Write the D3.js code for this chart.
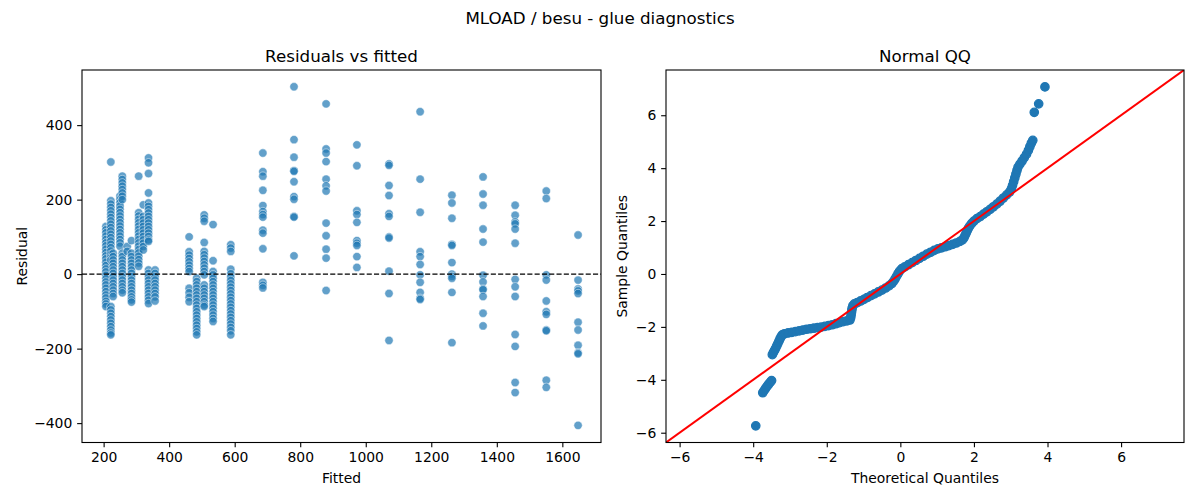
<!DOCTYPE html>
<html>
<head>
<meta charset="utf-8">
<script src="https://cdn.jsdelivr.net/npm/d3@7"></script>
<style>
  body { margin: 0; background: #fff; }
  text { font-family: "DejaVu Sans", sans-serif; fill: #000; }
</style>
</head>
<body>
<div class="main-area"></div>
<script>
// fitted value columns and the residuals
const fittedLevels = [207, 222, 229, 250, 257, 272, 285, 307, 321, 337, 357, 461, 484, 507, 534, 588,
  686, 781, 879, 973, 1071, 1166, 1263, 1358, 1456, 1551, 1648];

const residualsByLevel = [
  [128, 119, 111, 102, 93, 84, 76, 67, 58, 49, 41, 32, 23, 14, 6, -3, -12, -21, -29, -38, -47, -56, -64, -73, -80, -87],
  [301, 197, 188, 179, 170, 161, 152, 143, 134, 125, 116, 107, 98, 89, 80, 71, 62, 53, 45, 38, -87, -96, -105, -114, -123, -132, -141, -150, -158, -163],
  [56, 47, 38, 29, 20, 11, 2, -7, -16, -25, -34, -43, -52, -60],
  [210, 201, 192, 183, 174, 165, 156, 147, 138, 129, 120, 111, 102, 93, 84, 75],
  [263, 254, 245, 236, 227, 218, 209, 200, 56, 47, 38, 29, 20, 11, 2, -7, -16, -25, -34, -43, -50],
  [74, 61],
  [90, 56, 47, 38, 29, 20, 11, 2, -7, -16, -25, -34, -43, -52, -61, -69, -75],
  [263, 165, 156, 147, 138, 129, 120, 111, 102, 93, 84, 75, 66, 57, 48, 39, 30, 21],
  [186, 155, 146, 137, 128, 119, 110, 101, 92, 83, 74, 65],
  [312, 299, 270, 218, 191, 182, 173, 164, 155, 146, 137, 128, 119, 110, 101, 92, 88, 11, 2, -7, -16, -25, -34, -43, -52, -61, -70, -79],
  [11, 2, -7, -16, -25, -34, -43, -52, -61, -72],
  [100, 60, 51, 42, 33, 24, 15, 7, -38, -50, -62, -74],
  [-11, -20, -29, -38, -47, -56, -65, -74, -83, -92, -101, -110, -119, -128, -137, -146, -155, -163],
  [159, 150, 142, 85, 61, 52, 43, 34, 25, 16, 7, -2, -29, -38, -47, -56, -65, -74, -83, -87],
  [133, 36, 7, -2, -11, -20, -29, -38, -47, -56, -65, -74, -83, -92, -101, -110, -119, -127],
  [79, 70, 61, 13, 1, -8, -17, -26, -35, -44, -53, -62, -71, -80, -89, -98, -107, -116, -125, -134, -143, -152, -163],
  [325, 275, 263, 225, 184, 168, 160, 153, 118, 110, 68, -22, -30, -37],
  [503, 361, 314, 278, 276, 248, 208, 201, 155, 153, 49],
  [457, 336, 325, 302, 255, 237, 223, 137, 103, 67, 43, -44],
  [347, 291, 170, 160, 139, 90, 83, 77, 47, 18],
  [296, 292, 238, 211, 162, 155, 100, 97, 8, -52, -178],
  [436, 255, 166, 60, 47, 26, -2, -22, -49, -65, -68],
  [212, 191, 150, 80, 77, 31, 0, -6, -11, -49, -184],
  [261, 215, 185, 121, 86, -3, -21, -40, -42, -60, -105, -139],
  [185, 158, 140, 135, 121, 83, -14, -34, -60, -162, -194, -291, -318],
  [223, 203, -2, -16, -72, -101, -108, -150, -152, -285, -304],
  [105, -16, -40, -45, -52, -129, -150, -191, -211, -214, -406]
];

// normal QQ: [theoretical quantile, sample quantile]
const qqPoints = [
  [-3.93, -5.74], [-3.74, -4.49], [-3.70, -4.40], [-3.66, -4.32], [-3.62, -4.24], [-3.58, -4.17], [-3.54, -4.10], [-3.50, -4.03],
  [-3.48, -3.05], [-3.45, -2.97], [-3.42, -2.89], [-3.39, -2.81], [-3.36, -2.72], [-3.33, -2.63], [-3.30, -2.54], [-3.27, -2.45], [-3.24, -2.37], [-3.21, -2.30],
  [-3.15, -2.26], [-3.05, -2.23], [-2.95, -2.21], [-2.85, -2.18], [-2.75, -2.15], [-2.65, -2.12], [-2.55, -2.09], [-2.45, -2.07], [-2.35, -2.05], [-2.25, -2.03],
  [-2.15, -2.01], [-2.05, -1.98], [-1.95, -1.95], [-1.85, -1.92], [-1.75, -1.88], [-1.65, -1.84], [-1.55, -1.80], [-1.45, -1.77], [-1.37, -1.74],
  [-1.35, -1.65], [-1.34, -1.56], [-1.33, -1.47], [-1.32, -1.38], [-1.31, -1.29], [-1.29, -1.20], [-1.25, -1.13],
  [-1.17, -1.08], [-1.08, -1.02], [-0.99, -0.96], [-0.90, -0.89], [-0.80, -0.82], [-0.70, -0.75], [-0.60, -0.68], [-0.50, -0.61], [-0.40, -0.53], [-0.31, -0.45], [-0.23, -0.36],
  [-0.18, -0.27], [-0.14, -0.18], [-0.10, -0.08], [-0.06, 0.02], [-0.02, 0.11], [0.04, 0.20],
  [0.12, 0.27], [0.22, 0.35], [0.32, 0.43], [0.42, 0.51], [0.52, 0.59], [0.62, 0.67], [0.72, 0.75], [0.82, 0.82], [0.92, 0.89], [1.02, 0.95],
  [1.12, 0.99], [1.22, 1.03], [1.32, 1.07], [1.42, 1.12], [1.52, 1.17], [1.62, 1.23], [1.69, 1.29],
  [1.73, 1.37], [1.76, 1.46], [1.79, 1.55], [1.82, 1.64], [1.85, 1.73], [1.89, 1.82], [1.94, 1.91], [2.00, 2.00],
  [2.08, 2.09], [2.17, 2.17], [2.26, 2.26], [2.35, 2.35], [2.44, 2.44], [2.53, 2.54], [2.62, 2.64], [2.71, 2.75], [2.80, 2.87], [2.89, 2.99], [2.97, 3.10],
  [3.02, 3.22], [3.05, 3.35], [3.08, 3.49], [3.11, 3.63], [3.14, 3.77], [3.17, 3.91], [3.20, 4.04], [3.25, 4.15], [3.31, 4.27], [3.37, 4.40],
  [3.43, 4.53], [3.48, 4.67], [3.52, 4.81], [3.56, 4.94], [3.60, 5.05],
  [3.64, 6.11], [3.76, 6.43], [3.93, 7.07]
];

const fittedTicks = [200, 400, 600, 800, 1000, 1200, 1400, 1600];
const residualTicks = [-400, -200, 0, 200, 400];
const quantileTicks = [-6, -4, -2, 0, 2, 4, 6];

const titles = {
  main: "MLOAD / besu - glue diagnostics",
  left: "Residuals vs fitted",
  right: "Normal QQ",
  leftX: "Fitted", leftY: "Residual",
  rightX: "Theoretical Quantiles", rightY: "Sample Quantiles"
};

const width = 1200, height = 500;
const plotTop = 70, plotBottom = 442.5;
const left1 = 82, right1 = 601;
const left2 = 666, right2 = 1184;
const tickLen = 4.86, tickPad = 4.86;
const blue = "#1f77b4";
const fmt = d3.format("d");

const svg = d3.select(".main-area").append("svg")
  .attr("width", width).attr("height", height)
  .attr("viewBox", `0 0 ${width} ${height}`);

svg.append("rect").attr("width", width).attr("height", height).attr("fill", "#fff");

const defs = svg.append("defs");
defs.append("clipPath").attr("id", "clip1").append("rect")
  .attr("x", left1).attr("y", plotTop).attr("width", right1 - left1).attr("height", plotBottom - plotTop);
defs.append("clipPath").attr("id", "clip2").append("rect")
  .attr("x", left2).attr("y", plotTop).attr("width", right2 - left2).attr("height", plotBottom - plotTop);

function styleAxis(g) {
  g.select(".domain").remove();
  g.selectAll(".tick line").attr("stroke", "#000").attr("stroke-width", 1.1);
  g.selectAll(".tick text").attr("font-size", "13.9px").attr("fill", "#000")
    .attr("font-family", "DejaVu Sans, sans-serif");
}

function frame(x0, x1) {
  svg.append("rect").attr("x", x0).attr("y", plotTop).attr("width", x1 - x0).attr("height", plotBottom - plotTop)
    .attr("fill", "none").attr("stroke", "#000").attr("stroke-width", 1.1);
}

// ---- left: residuals vs fitted
const x1 = d3.scaleLinear().domain([134, 1718]).range([left1, right1]);
const y1 = d3.scaleLinear().domain([-452, 548]).range([plotBottom, plotTop]);

const points = [];
fittedLevels.forEach((f, i) => {
  residualsByLevel[i].forEach(r => points.push([f, r]));
});

const g1 = svg.append("g").attr("clip-path", "url(#clip1)");
g1.selectAll("circle")
  .data(points)
  .join("circle")
  .attr("cx", d => x1(d[0]))
  .attr("cy", d => y1(d[1]))
  .attr("r", 4.2)
  .attr("fill", blue).attr("fill-opacity", 0.7)
  .attr("stroke", "#fff").attr("stroke-opacity", 0.7).attr("stroke-width", 0.7);

g1.append("line")
  .attr("x1", left1).attr("x2", right1)
  .attr("y1", y1(0)).attr("y2", y1(0))
  .attr("stroke", "#000").attr("stroke-width", 1.2)
  .attr("stroke-dasharray", "5.1,2.2");

svg.append("g").attr("transform", `translate(0,${plotBottom})`)
  .call(d3.axisBottom(x1).tickValues(fittedTicks).tickFormat(fmt).tickSize(tickLen).tickPadding(tickPad).tickSizeOuter(0))
  .call(styleAxis);
svg.append("g").attr("transform", `translate(${left1},0)`)
  .call(d3.axisLeft(y1).tickValues(residualTicks).tickFormat(fmt).tickSize(tickLen).tickPadding(tickPad).tickSizeOuter(0))
  .call(styleAxis);
frame(left1, right1);

// ---- right: normal QQ
const lim = [-6.37, 7.71];
const x2 = d3.scaleLinear().domain(lim).range([left2, right2]);
const y2 = d3.scaleLinear().domain(lim).range([plotBottom, plotTop]);

const g2 = svg.append("g").attr("clip-path", "url(#clip2)");
g2.selectAll("circle")
  .data(qqPoints)
  .join("circle")
  .attr("cx", d => x2(d[0]))
  .attr("cy", d => y2(d[1]))
  .attr("r", 4.2)
  .attr("fill", blue)
  .attr("stroke", blue).attr("stroke-width", 1.3);

g2.append("line")
  .attr("x1", x2(lim[0])).attr("y1", y2(lim[0]))
  .attr("x2", x2(lim[1])).attr("y2", y2(lim[1]))
  .attr("stroke", "#ff0000").attr("stroke-width", 2);

svg.append("g").attr("transform", `translate(0,${plotBottom})`)
  .call(d3.axisBottom(x2).tickValues(quantileTicks).tickFormat(fmt).tickSize(tickLen).tickPadding(tickPad).tickSizeOuter(0))
  .call(styleAxis);
svg.append("g").attr("transform", `translate(${left2},0)`)
  .call(d3.axisLeft(y2).tickValues(quantileTicks).tickFormat(fmt).tickSize(tickLen).tickPadding(tickPad).tickSizeOuter(0))
  .call(styleAxis);
frame(left2, right2);

// ---- text
svg.append("text").attr("x", width / 2).attr("y", 24).attr("text-anchor", "middle")
  .attr("font-size", "16.7px").text(titles.main);
svg.append("text").attr("x", (left1 + right1) / 2).attr("y", 62).attr("text-anchor", "middle")
  .attr("font-size", "16.7px").text(titles.left);
svg.append("text").attr("x", (left2 + right2) / 2).attr("y", 62).attr("text-anchor", "middle")
  .attr("font-size", "16.7px").text(titles.right);

svg.append("text").attr("x", (left1 + right1) / 2).attr("y", 483).attr("text-anchor", "middle")
  .attr("font-size", "13.9px").text(titles.leftX);
svg.append("text").attr("x", (left2 + right2) / 2).attr("y", 483).attr("text-anchor", "middle")
  .attr("font-size", "13.9px").text(titles.rightX);

svg.append("text").attr("transform", `translate(27,${(plotTop + plotBottom) / 2}) rotate(-90)`)
  .attr("text-anchor", "middle").attr("font-size", "13.9px").text(titles.leftY);
svg.append("text").attr("transform", `translate(627,${(plotTop + plotBottom) / 2}) rotate(-90)`)
  .attr("text-anchor", "middle").attr("font-size", "13.9px").text(titles.rightY);
</script>
</body>
</html>
